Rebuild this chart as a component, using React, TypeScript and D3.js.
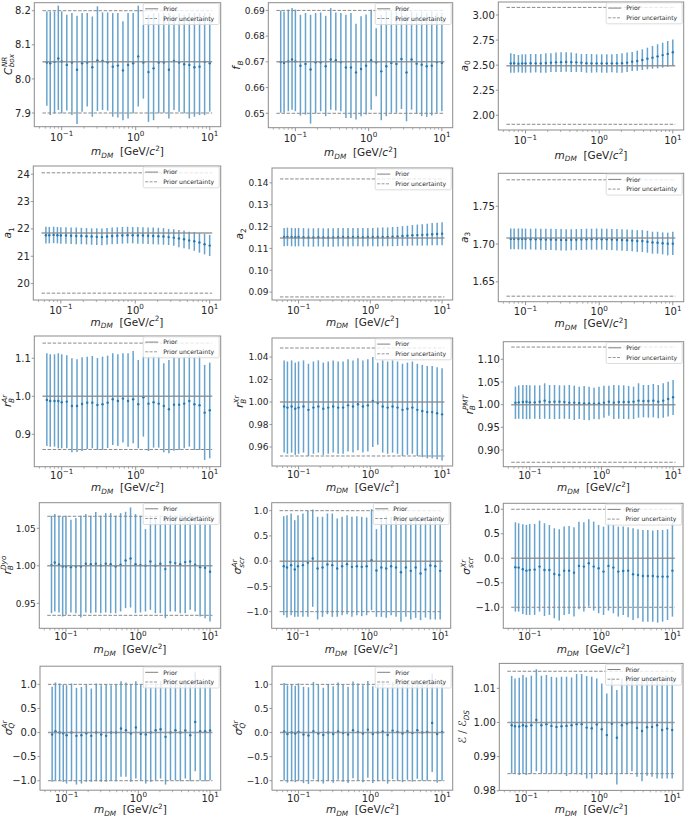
import React from 'react';
import * as d3 from 'd3';

const W = 685;
const H = 818;
const FONT = "'DejaVu Sans', sans-serif";
const BLUE = '#1f77b4';

// ---------- data ----------
const mass = [0.063, 0.07, 0.08, 0.09, 0.1, 0.1172, 0.1374, 0.1611, 0.1887, 0.2212, 0.2593, 0.3039, 0.3562, 0.4175, 0.4894, 0.5736, 0.6723, 0.788, 0.9237, 1.0826, 1.269, 1.4874, 1.7433, 2.0434, 2.395, 2.8072, 3.2903, 3.8566, 4.5204, 5.2983, 6.2102, 7.279, 8.5317, 10];
const xTickValues = [0.1, 1, 10];
const xTickExps = ['−1', '0', '1'];
const xMinorValues = [0.05, 0.06, 0.07, 0.08, 0.09, 0.2, 0.3, 0.4, 0.5, 0.6, 0.7, 0.8, 0.9, 2, 3, 4, 5, 6, 7, 8, 9];
const priorXRange = [0.055, 10.8];

const cboxMid = [8.048, 8.046, 8.050, 8.060, 8.051, 8.041, 8.048, 8.027, 8.046, 8.048, 8.034, 8.054, 8.053, 8.049, 8.036, 8.039, 8.025, 8.041, 8.046, 8.066, 8.048, 8.020, 8.031, 8.048, 8.048, 8.027, 8.053, 8.048, 8.043, 8.041, 8.034, 8.036, 8.050, 8.046];
const cboxHi = [8.198, 8.198, 8.198, 8.215, 8.198, 8.188, 8.193, 8.185, 8.193, 8.193, 8.183, 8.213, 8.195, 8.195, 8.193, 8.193, 8.169, 8.193, 8.193, 8.215, 8.159, 8.188, 8.193, 8.193, 8.193, 8.193, 8.188, 8.193, 8.188, 8.193, 8.193, 8.193, 8.193, 8.193];
const cboxLo = [7.921, 7.894, 7.899, 7.909, 7.899, 7.907, 7.894, 7.868, 7.904, 7.919, 7.889, 7.906, 7.909, 7.907, 7.889, 7.887, 7.879, 7.884, 7.899, 7.919, 7.942, 7.874, 7.879, 7.899, 7.901, 7.884, 7.909, 7.904, 7.899, 7.884, 7.889, 7.894, 7.894, 7.904];
const cboxTicks = [7.9, 8.0, 8.1, 8.2];

const fbMid = [0.6699, 0.6696, 0.6702, 0.6709, 0.6702, 0.6685, 0.6692, 0.6670, 0.6698, 0.6698, 0.6683, 0.6709, 0.6706, 0.6699, 0.6678, 0.6678, 0.6659, 0.6672, 0.6685, 0.6706, 0.6698, 0.6663, 0.6683, 0.6696, 0.6692, 0.6711, 0.6659, 0.6709, 0.6693, 0.6689, 0.6683, 0.6685, 0.6699, 0.6696];
const fbHi = [0.6900, 0.6896, 0.6903, 0.6909, 0.6903, 0.6883, 0.6890, 0.6883, 0.6890, 0.6892, 0.6879, 0.6909, 0.6892, 0.6890, 0.6883, 0.6890, 0.6848, 0.6877, 0.6884, 0.6903, 0.6831, 0.6883, 0.6896, 0.6896, 0.6896, 0.6909, 0.6883, 0.6896, 0.6890, 0.6896, 0.6890, 0.6896, 0.6890, 0.6890];
const fbLo = [0.6502, 0.6502, 0.6508, 0.6514, 0.6508, 0.6491, 0.6495, 0.6460, 0.6499, 0.6508, 0.6489, 0.6514, 0.6511, 0.6508, 0.6482, 0.6482, 0.6476, 0.6489, 0.6495, 0.6514, 0.6566, 0.6473, 0.6489, 0.6502, 0.6502, 0.6517, 0.6469, 0.6514, 0.6499, 0.6489, 0.6486, 0.6491, 0.6502, 0.6508];
const fbTicks = [0.65, 0.66, 0.67, 0.68, 0.69];

const a0Mid = [2.518, 2.520, 2.515, 2.518, 2.518, 2.520, 2.518, 2.518, 2.522, 2.525, 2.528, 2.530, 2.532, 2.530, 2.528, 2.525, 2.520, 2.518, 2.518, 2.518, 2.518, 2.518, 2.518, 2.520, 2.525, 2.535, 2.542, 2.551, 2.565, 2.575, 2.588, 2.600, 2.612, 2.628];
const a0Hi = [2.618, 2.611, 2.601, 2.608, 2.608, 2.611, 2.611, 2.611, 2.618, 2.618, 2.625, 2.628, 2.628, 2.625, 2.618, 2.611, 2.611, 2.611, 2.608, 2.608, 2.608, 2.608, 2.611, 2.618, 2.625, 2.631, 2.645, 2.658, 2.674, 2.691, 2.708, 2.724, 2.741, 2.757];
const a0Lo = [2.425, 2.425, 2.428, 2.425, 2.425, 2.425, 2.428, 2.425, 2.425, 2.432, 2.432, 2.432, 2.435, 2.432, 2.432, 2.432, 2.425, 2.425, 2.428, 2.425, 2.425, 2.428, 2.425, 2.425, 2.432, 2.442, 2.445, 2.452, 2.458, 2.465, 2.468, 2.475, 2.485, 2.495];
const a0Ticks = [2.0, 2.25, 2.5, 2.75, 3.0];

const a1Mid = [21.77, 21.77, 21.78, 21.77, 21.76, 21.76, 21.75, 21.74, 21.74, 21.73, 21.72, 21.71, 21.70, 21.72, 21.74, 21.75, 21.76, 21.77, 21.77, 21.76, 21.76, 21.75, 21.74, 21.73, 21.72, 21.70, 21.68, 21.65, 21.62, 21.58, 21.55, 21.50, 21.44, 21.39];
const a1Hi = [22.08, 22.07, 22.08, 22.07, 22.06, 22.06, 22.05, 22.05, 22.04, 22.03, 22.02, 22.02, 22.01, 22.03, 22.05, 22.06, 22.07, 22.08, 22.07, 22.07, 22.06, 22.05, 22.05, 22.04, 22.03, 22.00, 21.99, 21.96, 21.94, 21.90, 21.88, 21.84, 21.82, 21.78];
const a1Lo = [21.47, 21.47, 21.48, 21.47, 21.46, 21.46, 21.45, 21.44, 21.44, 21.43, 21.42, 21.41, 21.40, 21.42, 21.44, 21.45, 21.46, 21.47, 21.47, 21.46, 21.46, 21.45, 21.44, 21.43, 21.42, 21.41, 21.38, 21.33, 21.29, 21.26, 21.20, 21.13, 21.07, 21.01];
const a1Ticks = [20, 21, 22, 23, 24];

const a2Mid = [0.1152, 0.1153, 0.1152, 0.1151, 0.1152, 0.1151, 0.1150, 0.1150, 0.1151, 0.1150, 0.1150, 0.1150, 0.1151, 0.1152, 0.1151, 0.1152, 0.1152, 0.1151, 0.1152, 0.1152, 0.1152, 0.1153, 0.1153, 0.1154, 0.1155, 0.1157, 0.1158, 0.1160, 0.1161, 0.1162, 0.1163, 0.1165, 0.1166, 0.1167];
const a2Hi = [0.1194, 0.1195, 0.1194, 0.1193, 0.1194, 0.1193, 0.1192, 0.1192, 0.1193, 0.1192, 0.1192, 0.1192, 0.1193, 0.1194, 0.1193, 0.1194, 0.1194, 0.1193, 0.1194, 0.1194, 0.1195, 0.1196, 0.1196, 0.1198, 0.1199, 0.1202, 0.1204, 0.1207, 0.1209, 0.1211, 0.1213, 0.1216, 0.1218, 0.1220];
const a2Lo = [0.1110, 0.1111, 0.1110, 0.1109, 0.1110, 0.1109, 0.1108, 0.1108, 0.1109, 0.1108, 0.1108, 0.1108, 0.1109, 0.1110, 0.1109, 0.1110, 0.1110, 0.1109, 0.1110, 0.1110, 0.1109, 0.1110, 0.1110, 0.1110, 0.1111, 0.1112, 0.1112, 0.1113, 0.1113, 0.1113, 0.1113, 0.1114, 0.1114, 0.1114];
const a2Ticks = [0.09, 0.10, 0.11, 0.12, 0.13, 0.14];

const a3Mid = [1.7068, 1.7068, 1.7066, 1.7066, 1.7066, 1.7064, 1.7064, 1.7063, 1.7061, 1.7060, 1.7058, 1.7055, 1.7055, 1.7057, 1.7058, 1.7060, 1.7062, 1.7064, 1.7065, 1.7064, 1.7062, 1.7060, 1.7057, 1.7053, 1.7050, 1.7046, 1.7040, 1.7040, 1.7031, 1.7020, 1.7018, 1.7010, 1.7005, 1.7005];
const a3Hi = [1.7205, 1.7207, 1.7207, 1.7207, 1.7205, 1.7203, 1.7205, 1.7203, 1.7201, 1.7203, 1.7200, 1.7198, 1.7196, 1.7196, 1.7198, 1.7200, 1.7203, 1.7203, 1.7205, 1.7205, 1.7203, 1.7200, 1.7198, 1.7196, 1.7192, 1.7188, 1.7183, 1.7185, 1.7176, 1.7163, 1.7163, 1.7154, 1.7150, 1.7163];
const a3Lo = [1.6930, 1.6932, 1.6930, 1.6930, 1.6928, 1.6928, 1.6925, 1.6925, 1.6922, 1.6920, 1.6918, 1.6916, 1.6916, 1.6918, 1.6920, 1.6922, 1.6925, 1.6925, 1.6925, 1.6925, 1.6922, 1.6920, 1.6916, 1.6912, 1.6907, 1.6903, 1.6896, 1.6894, 1.6885, 1.6872, 1.6872, 1.6863, 1.6850, 1.6855];
const a3Ticks = [1.65, 1.70, 1.75];

const rArMid = [0.9904, 0.9877, 0.9877, 0.9877, 0.9842, 0.9860, 0.9746, 0.9746, 0.9798, 0.9833, 0.9833, 0.9772, 0.9789, 0.9833, 0.9921, 0.9877, 0.9939, 0.9877, 0.9921, 0.9789, 0.9974, 0.9807, 0.9842, 0.9807, 0.9746, 0.9658, 0.9780, 0.9780, 0.9807, 0.9877, 0.9789, 0.9763, 0.9570, 0.9632];
const rArHi = [1.1132, 1.1105, 1.1105, 1.1132, 1.1105, 1.1079, 1.1000, 1.0974, 1.1026, 1.1044, 1.1061, 1.1009, 1.1044, 1.1070, 1.1132, 1.1105, 1.1132, 1.1132, 1.1193, 1.0956, 1.1044, 1.1044, 1.1061, 1.1061, 1.0868, 1.0956, 1.1026, 1.1009, 1.1044, 1.1105, 1.1026, 1.1061, 1.0825, 1.0886];
const rArLo = [0.8693, 0.8675, 0.8675, 0.8632, 0.8632, 0.8632, 0.8526, 0.8535, 0.8561, 0.8614, 0.8632, 0.8588, 0.8588, 0.8640, 0.8719, 0.8693, 0.8781, 0.8675, 0.8763, 0.8632, 0.8939, 0.8561, 0.8649, 0.8649, 0.8526, 0.8500, 0.8570, 0.8588, 0.8632, 0.8675, 0.8588, 0.8588, 0.8325, 0.8368];
const rArTicks = [0.9, 1.0, 1.1];

const rXrMid = [0.996, 0.995, 0.996, 0.994, 0.995, 0.996, 0.993, 0.995, 0.996, 0.994, 0.995, 0.996, 0.995, 0.995, 0.997, 0.996, 0.998, 0.996, 0.997, 1.001, 0.999, 0.996, 0.995, 0.996, 0.995, 0.993, 0.994, 0.995, 0.993, 0.992, 0.991, 0.991, 0.990, 0.989];
const rXrHi = [1.037, 1.036, 1.037, 1.035, 1.036, 1.037, 1.034, 1.036, 1.037, 1.035, 1.036, 1.037, 1.036, 1.036, 1.038, 1.037, 1.039, 1.037, 1.038, 1.040, 1.035, 1.037, 1.036, 1.037, 1.036, 1.034, 1.035, 1.036, 1.034, 1.033, 1.032, 1.032, 1.031, 1.030];
const rXrLo = [0.955, 0.954, 0.955, 0.953, 0.954, 0.955, 0.952, 0.954, 0.955, 0.953, 0.954, 0.955, 0.954, 0.954, 0.956, 0.955, 0.957, 0.955, 0.956, 0.960, 0.962, 0.955, 0.954, 0.955, 0.954, 0.952, 0.953, 0.954, 0.952, 0.951, 0.950, 0.950, 0.949, 0.948];
const rXrTicks = [0.96, 0.98, 1.0, 1.02, 1.04];

const rPmtMid = [1.0044, 1.0051, 1.0059, 1.0066, 1.0051, 1.0051, 1.0066, 1.0088, 1.0059, 1.0066, 1.0066, 1.0059, 1.0044, 1.0044, 1.0037, 1.0029, 1.0029, 1.0022, 1.0029, 1.0044, 1.0066, 1.0044, 1.0059, 1.0059, 1.0059, 1.0066, 1.0088, 1.0081, 1.0081, 1.0088, 1.0066, 1.0088, 1.0125, 1.0162];
const rPmtHi = [1.0397, 1.0426, 1.0434, 1.0434, 1.0426, 1.0426, 1.0426, 1.0471, 1.0434, 1.0434, 1.0426, 1.0426, 1.0434, 1.0419, 1.0397, 1.0412, 1.0397, 1.0375, 1.0397, 1.0419, 1.0419, 1.0434, 1.0426, 1.0426, 1.0412, 1.0397, 1.0471, 1.0434, 1.0434, 1.0456, 1.0434, 1.0471, 1.0507, 1.0544];
const rPmtLo = [0.9684, 0.9690, 0.9684, 0.9680, 0.9684, 0.9688, 0.9684, 0.9690, 0.9684, 0.9680, 0.9684, 0.9688, 0.9684, 0.9662, 0.9684, 0.9662, 0.9654, 0.9684, 0.9680, 0.9713, 0.9757, 0.9684, 0.9690, 0.9684, 0.9680, 0.9684, 0.9713, 0.9721, 0.9713, 0.9721, 0.9700, 0.9713, 0.9740, 0.9772];
const rPmtTicks = [0.9, 0.95, 1.0, 1.05, 1.1];

const rDyoMid = [1.0009, 1.0044, 1.0018, 0.9991, 0.9991, 0.9982, 0.9991, 0.9991, 1.0027, 1.0022, 1.0027, 1.0004, 1.0027, 1.0022, 0.9991, 1.0013, 1.0071, 1.0098, 1.0022, 1.0009, 1.0000, 1.0058, 1.0000, 1.0027, 0.9956, 1.0049, 1.0036, 1.0022, 1.0049, 1.0058, 1.0013, 0.9982, 0.9975, 0.9920];
const rDyoHi = [1.0667, 1.0689, 1.0667, 1.0658, 1.0667, 1.0613, 1.0636, 1.0667, 1.0689, 1.0667, 1.0716, 1.0667, 1.0702, 1.0702, 1.0667, 1.0702, 1.0720, 1.0778, 1.0689, 1.0667, 1.0489, 1.0667, 1.0667, 1.0667, 1.0658, 1.0680, 1.0667, 1.0680, 1.0667, 1.0702, 1.0658, 1.0667, 1.0613, 1.0547];
const rDyoLo = [0.9369, 0.9391, 0.9378, 0.9324, 0.9347, 0.9378, 0.9369, 0.9311, 0.9378, 0.9369, 0.9378, 0.9369, 0.9378, 0.9369, 0.9369, 0.9391, 0.9436, 0.9444, 0.9369, 0.9378, 0.9391, 0.9413, 0.9369, 0.9369, 0.9302, 0.9391, 0.9391, 0.9369, 0.9369, 0.9413, 0.9391, 0.9324, 0.9302, 0.9258];
const rDyoTicks = [0.95, 1.0, 1.05];

const sArMid = [-0.099, -0.125, -0.079, -0.165, -0.099, -0.079, -0.033, 0.053, -0.145, -0.125, -0.066, -0.079, -0.145, -0.099, -0.059, -0.112, -0.099, -0.112, -0.099, 0.020, -0.185, -0.125, -0.145, -0.099, -0.125, -0.218, -0.125, -0.191, -0.125, -0.244, -0.165, -0.086, -0.099, -0.191];
const sArHi = [0.891, 0.911, 0.944, 0.812, 0.911, 0.944, 0.997, 1.023, 0.878, 0.878, 0.944, 0.944, 0.845, 0.878, 0.911, 0.878, 0.891, 0.878, 0.865, 1.030, 0.634, 0.845, 0.891, 0.878, 0.878, 0.825, 0.845, 0.865, 0.891, 0.812, 0.845, 0.878, 0.865, 0.891];
const sArLo = [-1.069, -1.116, -1.069, -1.102, -1.102, -1.102, -1.102, -0.904, -1.155, -1.102, -1.050, -1.102, -1.102, -1.069, -1.050, -1.102, -1.069, -1.089, -1.069, -0.970, -1.102, -1.102, -1.122, -1.069, -1.102, -1.201, -1.102, -1.155, -1.122, -1.168, -1.116, -1.155, -1.155, -1.155];
const sigTicks = [-1.0, -0.5, 0.0, 0.5, 1.0];

const sXrMid = [-0.184, -0.190, -0.224, -0.252, -0.238, -0.231, -0.170, -0.238, -0.238, -0.320, -0.340, -0.252, -0.252, -0.293, -0.156, -0.170, -0.102, -0.170, -0.204, -0.272, -0.156, -0.190, -0.272, -0.259, -0.252, -0.327, -0.340, -0.361, -0.361, -0.361, -0.374, -0.374, -0.374, -0.252];
const sXrHi = [0.735, 0.714, 0.694, 0.680, 0.701, 0.701, 0.769, 0.714, 0.680, 0.612, 0.592, 0.646, 0.660, 0.633, 0.748, 0.735, 0.796, 0.748, 0.680, 0.646, 0.714, 0.680, 0.646, 0.646, 0.633, 0.612, 0.592, 0.578, 0.578, 0.565, 0.578, 0.578, 0.592, 0.728];
const sXrLo = [-1.088, -1.088, -1.136, -1.156, -1.156, -1.156, -1.088, -1.177, -1.156, -1.224, -1.272, -1.156, -1.136, -1.190, -1.041, -1.088, -0.986, -1.068, -1.122, -1.156, -1.068, -1.122, -1.190, -1.156, -1.204, -1.259, -1.224, -1.293, -1.293, -1.293, -1.313, -1.293, -1.259, -1.190];

const qArMid = [-0.042, 0.028, 0.0, -0.014, -0.055, 0.0, -0.069, -0.055, -0.014, -0.069, 0.0, -0.042, -0.069, 0.0, 0.0, 0.083, 0.048, -0.021, 0.104, -0.028, -0.042, 0.0, 0.048, 0.069, -0.090, 0.0, 0.048, 0.0, 0.042, -0.055, 0.221, 0.028, 0.028, 0.042];
const qArHi = [0.948, 1.038, 1.017, 0.997, 0.983, 1.017, 0.927, 0.948, 0.997, 0.913, 1.017, 0.983, 0.997, 0.983, 0.997, 1.066, 1.038, 0.997, 1.066, 0.997, 0.997, 0.948, 1.017, 1.066, 0.948, 1.038, 1.017, 0.997, 1.038, 0.997, 1.260, 0.997, 1.017, 0.997];
const qArLo = [-1.024, -0.990, -1.010, -1.024, -1.059, -1.010, -1.080, -1.059, -1.024, -1.024, -1.010, -1.024, -1.024, -0.990, -1.010, -0.920, -0.920, -1.024, -0.955, -0.990, -1.059, -1.024, -0.990, -0.955, -1.080, -0.990, -0.990, -1.010, -0.955, -1.010, -0.803, -0.990, -1.010, -0.990];

const qXrMid = [0.02, -0.03, 0.0, -0.02, 0.01, -0.04, -0.06, 0.03, -0.02, -0.05, 0.0, -0.03, 0.02, -0.01, -0.04, 0.05, 0.01, -0.02, 0.06, -0.03, 0.0, 0.02, -0.05, 0.04, 0.01, -0.02, 0.03, -0.01, 0.05, 0.0, 0.01, 0.2, -0.03, 0.01];
const qXrHi = [1.03, 0.98, 1.0, 0.97, 1.02, 0.95, 0.94, 1.05, 0.99, 0.93, 1.01, 0.96, 1.04, 1.0, 0.95, 1.06, 1.02, 0.98, 1.07, 0.96, 1.0, 1.03, 0.93, 1.05, 1.02, 0.98, 1.04, 0.99, 1.06, 1.01, 1.02, 1.22, 0.97, 1.02];
const qXrLo = [-0.99, -1.04, -1.01, -1.03, -1.0, -1.05, -1.07, -0.97, -1.02, -1.06, -1.0, -1.04, -0.98, -1.02, -1.05, -0.95, -1.0, -1.03, -0.94, -1.05, -1.01, -0.99, -1.06, -0.97, -1.0, -1.03, -0.98, -1.02, -0.96, -1.0, -1.0, -0.82, -1.04, -1.0];

const effMid = [0.9992, 0.9989, 0.9988, 0.9992, 0.9989, 0.9992, 1.0007, 0.9992, 0.9995, 0.9990, 0.9987, 0.9989, 0.9990, 0.9992, 0.9995, 0.9995, 0.9985, 0.9983, 0.9994, 0.9980, 0.9963, 0.9996, 0.9955, 0.9992, 0.9997, 1.0000, 0.9984, 0.9975, 0.9986, 0.9987, 0.9992, 0.9978, 0.9982, 0.9978];
const effHi = [1.0136, 1.0129, 1.0131, 1.0139, 1.0132, 1.0137, 1.0156, 1.0137, 1.0139, 1.0134, 1.0132, 1.0134, 1.0134, 1.0132, 1.0142, 1.0142, 1.0136, 1.0134, 1.0129, 1.0114, 1.0085, 1.0131, 1.0095, 1.0129, 1.0132, 1.0137, 1.0129, 1.0134, 1.0134, 1.0134, 1.0132, 1.0131, 1.0131, 1.0131];
const effLo = [0.9850, 0.9850, 0.9846, 0.9850, 0.9846, 0.9850, 0.9857, 0.9850, 0.9850, 0.9850, 0.9850, 0.9850, 0.9843, 0.9850, 0.9848, 0.9846, 0.9836, 0.9836, 0.9850, 0.9846, 0.9846, 0.9850, 0.9818, 0.9850, 0.9850, 0.9857, 0.9841, 0.9828, 0.9844, 0.9841, 0.9836, 0.9836, 0.9836, 0.9836];
const effTicks = [0.98, 0.99, 1.0, 1.01];

const legendLabels = ['Prior', 'Prior uncertainty'];

// ---------- panel configuration ----------
type Lab = { base: string; sub?: string; sup?: string; baseItalic?: boolean };
type PanelCfg = {
  mid: number[]; lo: number[]; hi: number[];
  prior: number; unc: number; ticks: number[]; fmt: string;
  yDomain: [number, number]; box: [number, number, number, number]; ylx: number; auto: boolean; tfs: number; xo: [number, number]; label: Lab;
};

const ROW1: [number, number] = [14, 28.5];
const ROW2: [number, number] = [13.5, 25.5];
const ROW3: [number, number] = [12, 24.5];
const ROW4: [number, number] = [11.5, 25];
const ROW5: [number, number] = [11.5, 23];

const panels: PanelCfg[] = [
  { mid: cboxMid, lo: cboxLo, hi: cboxHi, prior: 8.05, unc: 0.15, ticks: cboxTicks, fmt: '.1f', yDomain: [7.8598, 8.2235], box: [34.3, 220.7, 2.7, 126.7], ylx: 8.5, auto: false, tfs: 10, xo: ROW1, label: { base: 'C', sub: 'box', sup: 'NR' } },
  { mid: fbMid, lo: fbLo, hi: fbHi, prior: 0.67, unc: 0.02, ticks: fbTicks, fmt: '.2f', yDomain: [0.6444, 0.6930], box: [268.3, 452.7, 2.7, 127.7], ylx: 239, auto: true, tfs: 9, xo: ROW1, label: { base: 'f', sub: 'B' } },
  { mid: a0Mid, lo: a0Lo, hi: a0Hi, prior: 2.493, unc: 0.583, ticks: a0Ticks, fmt: '.2f', yDomain: [1.853, 3.13], box: [498.3, 683.7, 2, 130], ylx: 467, auto: true, tfs: 10, xo: ROW1, label: { base: 'a', sub: '0' } },
  { mid: a1Mid, lo: a1Lo, hi: a1Hi, prior: 21.85, unc: 2.2, ticks: a1Ticks, fmt: 'd', yDomain: [19.4, 24.3], box: [33.3, 220.7, 166, 300], ylx: 8, auto: false, tfs: 10, xo: ROW2, label: { base: 'a', sub: '1' } },
  { mid: a2Mid, lo: a2Lo, hi: a2Hi, prior: 0.1148, unc: 0.027, ticks: a2Ticks, fmt: '.2f', yDomain: [0.0864, 0.1468], box: [272, 452.7, 168, 300], ylx: 240, auto: true, tfs: 9, xo: ROW2, label: { base: 'a', sub: '2' } },
  { mid: a3Mid, lo: a3Lo, hi: a3Hi, prior: 1.708, unc: 0.077, ticks: a3Ticks, fmt: '.2f', yDomain: [1.6237, 1.7936], box: [498.3, 683.7, 173.3, 301.7], ylx: 467, auto: true, tfs: 10, xo: ROW2, label: { base: 'a', sub: '3' } },
  { mid: rArMid, lo: rArLo, hi: rArHi, prior: 1.0, unc: 0.14, ticks: rArTicks, fmt: '.1f', yDomain: [0.8147, 1.1587], box: [34.3, 220.7, 336, 466.7], ylx: 8, auto: false, tfs: 10, xo: ROW3, label: { base: 'r', sub: 'B', sup: 'Ar' } },
  { mid: rXrMid, lo: rXrLo, hi: rXrHi, prior: 1.0, unc: 0.048, ticks: rXrTicks, fmt: '.2f', yDomain: [0.9431, 1.0569], box: [272, 452.7, 338, 466], ylx: 240, auto: true, tfs: 9, xo: ROW3, label: { base: 'r', sub: 'B', sup: 'Xr' } },
  { mid: rPmtMid, lo: rPmtLo, hi: rPmtHi, prior: 1.0, unc: 0.127, ticks: rPmtTicks, fmt: '.2f', yDomain: [0.8632, 1.1388], box: [503.3, 683.7, 341.7, 466.7], ylx: 470, auto: true, tfs: 10, xo: ROW3, label: { base: 'r', sub: 'B', sup: 'PMT' } },
  { mid: rDyoMid, lo: rDyoLo, hi: rDyoHi, prior: 1.0, unc: 0.066, ticks: rDyoTicks, fmt: '.2f', yDomain: [0.9167, 1.0841], box: [39.3, 220.7, 502.7, 628.3], ylx: 7.5, auto: false, tfs: 9, xo: ROW4, label: { base: 'r', sub: 'B', sup: 'Dyo' } },
  { mid: sArMid, lo: sArLo, hi: sArHi, prior: 0, unc: 1, ticks: sigTicks, fmt: '.1f', yDomain: [-1.329, 1.158], box: [271.7, 450.7, 502.7, 628.3], ylx: 238, auto: true, tfs: 9, xo: ROW4, label: { base: 'σ', sub: 'scr', sup: 'Ar' } },
  { mid: sXrMid, lo: sXrLo, hi: sXrHi, prior: 0, unc: 1, ticks: sigTicks, fmt: '.1f', yDomain: [-1.429, 1.122], box: [503.3, 683, 503.3, 628.3], ylx: 467, auto: false, tfs: 10, xo: ROW4, label: { base: 'σ', sub: 'scr', sup: 'Xr' } },
  { mid: qArMid, lo: qArLo, hi: qArHi, prior: 0, unc: 1, ticks: sigTicks, fmt: '.1f', yDomain: [-1.197, 1.377], box: [40, 220.7, 666.2, 790.2], ylx: 8.5, auto: false, tfs: 10, xo: ROW5, label: { base: 'σ', sub: 'Q', sup: 'Ar' } },
  { mid: qXrMid, lo: qXrLo, hi: qXrHi, prior: 0, unc: 1, ticks: sigTicks, fmt: '.1f', yDomain: [-1.197, 1.377], box: [272, 452.7, 666.2, 790.2], ylx: 239, auto: false, tfs: 9, xo: ROW5, label: { base: 'σ', sub: 'Q', sup: 'Ar' } },
  { mid: effMid, lo: effLo, hi: effHi, prior: 1.0, unc: 0.015, ticks: effTicks, fmt: '.2f', yDomain: [0.9801, 1.0173], box: [499.3, 683, 663.4, 790.4], ylx: 463, auto: true, tfs: 10, xo: ROW5, label: { base: 'ℰ / ℰ', sub: 'DS', baseItalic: false } },
];

const XDOM: [number, number] = [Math.pow(10, -1.37), Math.pow(10, 1.148)];

function textW(s: string, fs: number) {
  let w = 0;
  for (const ch of s) {
    if (ch === ' ') w += 0.318;
    else if (ch === '/') w += 0.337;
    else if (ch === '.') w += 0.318;
    else if (ch === '−') w += 0.838;
    else if (/[0-9]/.test(ch)) w += 0.636;
    else if (ch === 'M') w += 0.86;
    else if (/[A-Z]/.test(ch)) w += 0.7;
    else if (ch === 'm') w += 0.97;
    else if ('irtf'.includes(ch)) w += 0.36;
    else w += 0.6;
  }
  return w * fs;
}

function fmtTick(v: number, f: string) {
  const s = d3.format(f)(v);
  return s.replace('-', '−');
}

function YLabel({ lab, x, y }: { lab: Lab; x: number; y: number }) {
  const fs = 10.5;
  const sfs = 7.3;
  const bw = textW(lab.base, fs);
  const sw = Math.max(lab.sub ? textW(lab.sub, sfs) : 0, lab.sup ? textW(lab.sup, sfs) : 0);
  const total = bw + sw;
  const x0 = -total / 2;
  const by = 0.3 * fs;
  const it = lab.baseItalic === false ? 'normal' : 'italic';
  return (
    <g transform={`translate(${x},${y}) rotate(-90)`} fontFamily={FONT} fill="#262626">
      <text x={x0} y={by} fontSize={fs} fontStyle={it}>{lab.base}</text>
      {lab.sup && <text x={x0 + bw + 0.5} y={by - 0.4 * fs} fontSize={sfs} fontStyle="italic">{lab.sup}</text>}
      {lab.sub && <text x={x0 + bw + 0.3} y={by + 0.26 * fs} fontSize={sfs} fontStyle={/^[0-9]+$/.test(lab.sub) ? 'normal' : 'italic'}>{lab.sub}</text>}
    </g>
  );
}

function Panel({ p }: { p: PanelCfg }) {
  const [l, r, t, b] = p.box;
  const x = d3.scaleLog().domain(XDOM).range([l, r]);
  const y = d3.scaleLinear().domain(p.yDomain).range([b, t]);
  const axisColor = '#8c8c8c';
  const textColor = '#262626';
  const lw = 76;
  const lh = 21;
  const lx = r - 1.5 - lw;
  const ly = t + 0.8;
  const px0 = x(priorXRange[0]);
  const px1 = x(priorXRange[1]);
  const cx = (l + r) / 2;
  const tfs = p.tfs;
  const pad = 3.5;
  const maxW = d3.max(p.ticks, v => textW(fmtTick(v, p.fmt), tfs)) || 0;
  const ylx = p.auto ? Math.min(p.ylx, l - pad - maxW - 8) : p.ylx;
  return (
    <g fontFamily={FONT}>
      {mass.map((m, i) => (
        <line key={'e' + i} x1={x(m)} x2={x(m)} y1={y(p.lo[i])} y2={y(p.hi[i])} stroke={BLUE} strokeWidth={1.5} strokeOpacity={0.68} />
      ))}
      {mass.map((m, i) => (
        <circle key={'c' + i} cx={x(m)} cy={y(p.mid[i])} r={1.2} fill={BLUE} />
      ))}
      <line x1={px0} x2={px1} y1={y(p.prior)} y2={y(p.prior)} stroke="#8a8a8a" strokeWidth={1.5} strokeOpacity={0.85} />
      <line x1={px0} x2={px1} y1={y(p.prior + p.unc)} y2={y(p.prior + p.unc)} stroke="#8a8a8a" strokeWidth={1} strokeDasharray="3.5 1.6" />
      <line x1={px0} x2={px1} y1={y(p.prior - p.unc)} y2={y(p.prior - p.unc)} stroke="#8a8a8a" strokeWidth={1} strokeDasharray="3.5 1.6" />
      <rect x={l} y={t} width={r - l} height={b - t} fill="none" stroke={axisColor} strokeWidth={1} />
      {p.ticks.map((v, i) => (
        <g key={'yt' + i}>
          <line x1={l - 2.5} x2={l} y1={y(v)} y2={y(v)} stroke={axisColor} strokeWidth={0.9} />
          <text x={l - pad} y={y(v)} dy="0.36em" textAnchor="end" fontSize={tfs} fill={textColor}>{fmtTick(v, p.fmt)}</text>
        </g>
      ))}
      {xMinorValues.filter(v => v >= XDOM[0] && v <= XDOM[1]).map((v, i) => (
        <line key={'xm' + i} x1={x(v)} x2={x(v)} y1={b} y2={b + 2} stroke={axisColor} strokeWidth={0.7} />
      ))}
      {xTickValues.map((v, i) => (
        <g key={'xt' + i}>
          <line x1={x(v)} x2={x(v)} y1={b} y2={b + 3.5} stroke={axisColor} strokeWidth={0.9} />
          <text x={x(v)} y={b + p.xo[0]} textAnchor="middle" fontSize={10} fill={textColor}>
            10<tspan dy={-4.3} fontSize={7.2}>{xTickExps[i]}</tspan>
          </text>
        </g>
      ))}
      <text x={cx} y={b + p.xo[1]} textAnchor="middle" fontSize={10.5} fill={textColor}>
        <tspan fontStyle="italic">m</tspan>
        <tspan fontStyle="italic" fontSize={7.3} dy={2.5}>DM</tspan>
        <tspan dy={-2.5}>{'\u00a0\u00a0[GeV/'}</tspan>
        <tspan fontStyle="italic">c</tspan>
        <tspan fontSize={7.3} dy={-4.5}>2</tspan>
        <tspan dy={4.5}>]</tspan>
      </text>
      <YLabel lab={p.label} x={ylx} y={(t + b) / 2} />
      <rect x={lx} y={ly} width={lw} height={lh} rx={1.5} fill="white" fillOpacity={0.8} stroke="#d4d4d4" strokeWidth={0.8} />
      <line x1={lx + 2} x2={lx + 15} y1={ly + 5.3} y2={ly + 5.3} stroke="#808080" strokeWidth={1} />
      <text x={lx + 20} y={ly + 7.5} fontSize={6.1} fill={textColor}>{legendLabels[0]}</text>
      <line x1={lx + 2} x2={lx + 15} y1={ly + 15} y2={ly + 15} stroke="#808080" strokeWidth={0.8} strokeDasharray="3 1.4" />
      <text x={lx + 20} y={ly + 17.2} fontSize={6.1} fill={textColor}>{legendLabels[1]}</text>
    </g>
  );
}

export default function App() {
  return (
    <div style={{ position: 'absolute', left: 0, top: 0, width: W, height: H, background: 'white' }}>
      <svg width={W} height={H} viewBox={`0 0 ${W} ${H}`} style={{ display: 'block' }}>
        <rect x={0} y={0} width={W} height={H} fill="white" />
        {panels.map((p, i) => <Panel key={i} p={p} />)}
      </svg>
    </div>
  );
}
